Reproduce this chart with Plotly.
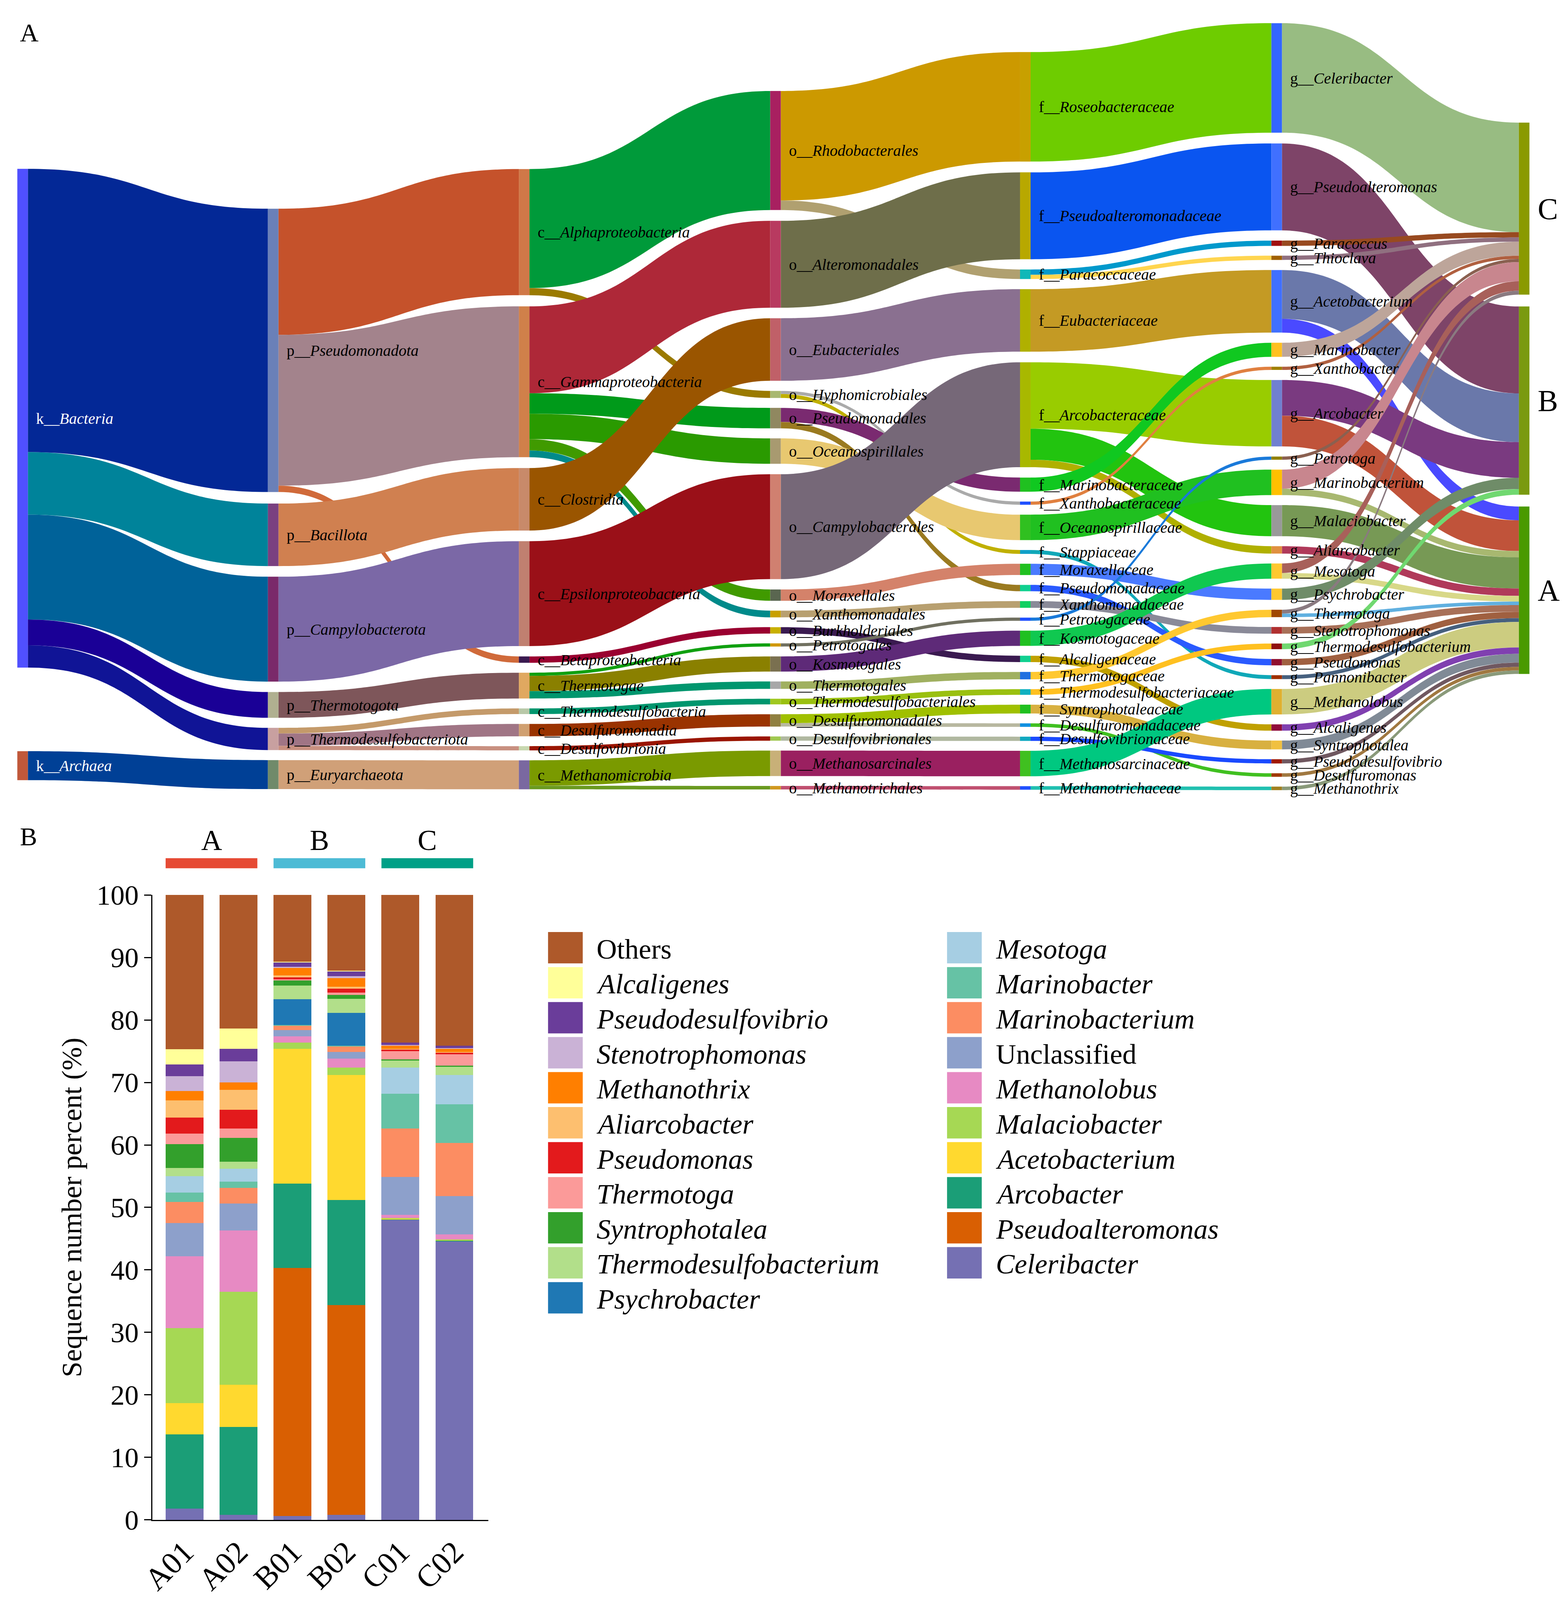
import plotly.graph_objects as go

# layout is worked out in the reference frame (REF_W x REF_H) and drawn in paper fractions;
# the figure itself is sized to fit the visible page
REF_W, REF_H = 4011, 4371
FIG_W, FIG_H = 3995, 4080
S_Y = FIG_H / REF_H
FONT = "Liberation Serif"

# ---------------- Panel A: taxonomy Sankey ----------------
kingdom = ["Bacteria", "Archaea"]
phylum = ["Pseudomonadota", "Bacillota", "Campylobacterota", "Thermotogota",
          "Thermodesulfobacteriota", "Euryarchaeota"]
klass = ["Alphaproteobacteria", "Gammaproteobacteria", "Clostridia", "Epsilonproteobacteria",
         "Betaproteobacteria", "Thermotogae", "Thermodesulfobacteria", "Desulfuromonadia",
         "Desulfovibrionia", "Methanomicrobia"]
order = ["Rhodobacterales", "Alteromonadales", "Eubacteriales", "Hyphomicrobiales",
         "Pseudomonadales", "Oceanospirillales", "Campylobacterales", "Moraxellales",
         "Xanthomonadales", "Burkholderiales", "Petrotogales", "Kosmotogales", "Thermotogales",
         "Thermodesulfobacteriales", "Desulfuromonadales", "Desulfovibrionales",
         "Methanosarcinales", "Methanotrichales"]
family = ["Roseobacteraceae", "Pseudoalteromonadaceae", "Paracoccaceae", "Eubacteriaceae",
          "Arcobacteraceae", "Marinobacteraceae", "Xanthobacteraceae", "Oceanospirillaceae",
          "Stappiaceae", "Moraxellaceae", "Pseudomonadaceae", "Xanthomonadaceae",
          "Petrotogaceae", "Kosmotogaceae", "Alcaligenaceae", "Thermotogaceae",
          "Thermodesulfobacteriaceae", "Syntrophotaleaceae", "Desulfuromonadaceae",
          "Desulfovibrionaceae", "Methanosarcinaceae", "Methanotrichaceae"]
genus = ["Celeribacter", "Pseudoalteromonas", "Paracoccus", "Thioclava", "Acetobacterium",
         "Marinobacter", "Xanthobacter", "Arcobacter", "Petrotoga", "Marinobacterium",
         "Malaciobacter", "Aliarcobacter", "Mesotoga", "Psychrobacter", "Thermotoga",
         "Stenotrophomonas", "Thermodesulfobacterium", "Pseudomonas", "Pannonibacter",
         "Methanolobus", "Alcaligenes", "Syntrophotalea", "Pseudodesulfovibrio",
         "Desulfuromonas", "Methanothrix"]
groups = ["C", "B", "A"]

links_kp = [("Bacteria", "Pseudomonadota", 802), ("Bacteria", "Bacillota", 177),
            ("Bacteria", "Campylobacterota", 297), ("Bacteria", "Thermotogota", 73),
            ("Bacteria", "Thermodesulfobacteriota", 63), ("Archaea", "Euryarchaeota", 82)]
links_pc = [("Pseudomonadota", "Alphaproteobacteria", 357),
            ("Pseudomonadota", "Gammaproteobacteria", 427),
            ("Pseudomonadota", "Betaproteobacteria", 18),
            ("Bacillota", "Clostridia", 177),
            ("Campylobacterota", "Epsilonproteobacteria", 297),
            ("Thermotogota", "Thermotogae", 73),
            ("Thermodesulfobacteriota", "Thermodesulfobacteria", 16),
            ("Thermodesulfobacteriota", "Desulfuromonadia", 35),
            ("Thermodesulfobacteriota", "Desulfovibrionia", 12),
            ("Euryarchaeota", "Methanomicrobia", 82)]
links_co = [("Alphaproteobacteria", "Rhodobacterales", 337),
            ("Alphaproteobacteria", "Hyphomicrobiales", 20),
            ("Gammaproteobacteria", "Alteromonadales", 246),
            ("Gammaproteobacteria", "Pseudomonadales", 58),
            ("Gammaproteobacteria", "Oceanospirillales", 72),
            ("Gammaproteobacteria", "Moraxellales", 32),
            ("Gammaproteobacteria", "Xanthomonadales", 19),
            ("Betaproteobacteria", "Burkholderiales", 18),
            ("Clostridia", "Eubacteriales", 177),
            ("Epsilonproteobacteria", "Campylobacterales", 297),
            ("Thermotogae", "Petrotogales", 9),
            ("Thermotogae", "Kosmotogales", 43),
            ("Thermotogae", "Thermotogales", 21),
            ("Thermodesulfobacteria", "Thermodesulfobacteriales", 16),
            ("Desulfuromonadia", "Desulfuromonadales", 35),
            ("Desulfovibrionia", "Desulfovibrionales", 12),
            ("Methanomicrobia", "Methanosarcinales", 72),
            ("Methanomicrobia", "Methanotrichales", 10)]
links_of = [("Rhodobacterales", "Roseobacteraceae", 310),
            ("Rhodobacterales", "Paracoccaceae", 27),
            ("Alteromonadales", "Pseudoalteromonadaceae", 246),
            ("Eubacteriales", "Eubacteriaceae", 177),
            ("Hyphomicrobiales", "Xanthobacteraceae", 9),
            ("Hyphomicrobiales", "Stappiaceae", 11),
            ("Pseudomonadales", "Marinobacteraceae", 40),
            ("Pseudomonadales", "Pseudomonadaceae", 18),
            ("Oceanospirillales", "Oceanospirillaceae", 72),
            ("Campylobacterales", "Arcobacteraceae", 297),
            ("Moraxellales", "Moraxellaceae", 32),
            ("Xanthomonadales", "Xanthomonadaceae", 19),
            ("Burkholderiales", "Alcaligenaceae", 18),
            ("Petrotogales", "Petrotogaceae", 9),
            ("Kosmotogales", "Kosmotogaceae", 43),
            ("Thermotogales", "Thermotogaceae", 21),
            ("Thermodesulfobacteriales", "Thermodesulfobacteriaceae", 16),
            ("Desulfuromonadales", "Syntrophotaleaceae", 25),
            ("Desulfuromonadales", "Desulfuromonadaceae", 10),
            ("Desulfovibrionales", "Desulfovibrionaceae", 12),
            ("Methanosarcinales", "Methanosarcinaceae", 72),
            ("Methanotrichales", "Methanotrichaceae", 10)]
links_fg = [("Roseobacteraceae", "Celeribacter", 310),
            ("Pseudoalteromonadaceae", "Pseudoalteromonas", 246),
            ("Paracoccaceae", "Paracoccus", 15),
            ("Paracoccaceae", "Thioclava", 12),
            ("Eubacteriaceae", "Acetobacterium", 177),
            ("Arcobacteraceae", "Arcobacter", 188),
            ("Arcobacteraceae", "Malaciobacter", 88),
            ("Arcobacteraceae", "Aliarcobacter", 21),
            ("Marinobacteraceae", "Marinobacter", 40),
            ("Xanthobacteraceae", "Xanthobacter", 9),
            ("Oceanospirillaceae", "Marinobacterium", 72),
            ("Stappiaceae", "Pannonibacter", 11),
            ("Moraxellaceae", "Psychrobacter", 32),
            ("Pseudomonadaceae", "Pseudomonas", 18),
            ("Xanthomonadaceae", "Stenotrophomonas", 19),
            ("Petrotogaceae", "Petrotoga", 9),
            ("Kosmotogaceae", "Mesotoga", 43),
            ("Alcaligenaceae", "Alcaligenes", 18),
            ("Thermotogaceae", "Thermotoga", 21),
            ("Thermodesulfobacteriaceae", "Thermodesulfobacterium", 16),
            ("Syntrophotaleaceae", "Syntrophotalea", 25),
            ("Desulfuromonadaceae", "Desulfuromonas", 10),
            ("Desulfovibrionaceae", "Pseudodesulfovibrio", 12),
            ("Methanosarcinaceae", "Methanolobus", 72),
            ("Methanotrichaceae", "Methanothrix", 10)]
links_gs = [("Celeribacter", "C", 310), ("Pseudoalteromonas", "B", 246),
            ("Paracoccus", "C", 15), ("Thioclava", "C", 12),
            ("Acetobacterium", "B", 138), ("Acetobacterium", "A", 39),
            ("Marinobacter", "C", 40), ("Xanthobacter", "C", 9),
            ("Arcobacter", "B", 101), ("Arcobacter", "A", 87),
            ("Petrotoga", "C", 9), ("Marinobacterium", "C", 54), ("Marinobacterium", "A", 18),
            ("Malaciobacter", "A", 88), ("Aliarcobacter", "A", 21),
            ("Mesotoga", "C", 27), ("Mesotoga", "A", 16), ("Psychrobacter", "B", 32),
            ("Thermotoga", "C", 11), ("Thermotoga", "A", 10),
            ("Stenotrophomonas", "A", 19), ("Thermodesulfobacterium", "B", 16),
            ("Pseudomonas", "A", 18), ("Pannonibacter", "A", 11), ("Methanolobus", "A", 72),
            ("Alcaligenes", "A", 18), ("Syntrophotalea", "A", 25),
            ("Pseudodesulfovibrio", "A", 12), ("Desulfuromonas", "A", 10),
            ("Methanothrix", "A", 10)]

# ---------------- Panel B: stacked bars ----------------
samples = ["A01", "A02", "B01", "B02", "C01", "C02"]
taxa = ["Celeribacter", "Pseudoalteromonas", "Arcobacter", "Acetobacterium", "Malaciobacter",
        "Methanolobus", "Unclassified", "Marinobacterium", "Marinobacter", "Mesotoga",
        "Psychrobacter", "Thermodesulfobacterium", "Syntrophotalea", "Thermotoga",
        "Pseudomonas", "Aliarcobacter", "Methanothrix", "Stenotrophomonas",
        "Pseudodesulfovibrio", "Alcaligenes", "Others"]
a01 = [1.8, 0, 11.9, 5.0, 12.0, 11.5, 5.3, 3.4, 1.5, 2.6, 0, 1.3, 3.8, 1.7, 2.6, 2.7, 1.5, 2.4, 1.9, 2.4, 24.7]
a02 = [0.8, 0, 14.1, 6.7, 14.9, 9.8, 4.3, 2.5, 1.0, 2.1, 0, 1.1, 3.8, 1.5, 3.0, 3.2, 1.2, 3.4, 2.0, 3.2, 21.4]
b01 = [0.6, 39.7, 13.5, 21.6, 1.0, 1.0, 1.0, 0.7, 0.1, 0, 4.1, 2.2, 0.8, 0.2, 0.3, 0.3, 1.2, 0.2, 0.7, 0.1, 10.7]
b02 = [0.8, 33.6, 16.8, 20.0, 1.2, 1.4, 1.1, 0.9, 0.1, 0, 5.2, 2.3, 0.6, 0.4, 0.6, 0.3, 1.4, 0.3, 0.8, 0.1, 12.1]
c01 = [48.0, 0, 0.1, 0.1, 0.1, 0.5, 6.1, 7.7, 5.6, 4.2, 0, 1.1, 0.2, 1.3, 0.3, 0.1, 0.5, 0.1, 0.4, 0, 23.6]
c02 = [44.6, 0, 0.1, 0.1, 0.1, 0.8, 6.1, 8.5, 6.2, 4.7, 0, 1.3, 0.2, 1.8, 0.3, 0.1, 0.5, 0.1, 0.4, 0, 24.1]
group_names = ["A", "B", "C"]

# ---------------- styles ----------------
node_colors = {
    "Bacteria": "#5050FF", "Archaea": "#C0583A",
    "Pseudomonadota": "#6A80B8", "Bacillota": "#7A4080", "Campylobacterota": "#7A2A6A",
    "Thermotogota": "#B0B090", "Thermodesulfobacteriota": "#C8A0A0", "Euryarchaeota": "#708A6A",
    "Alphaproteobacteria": "#D07848", "Gammaproteobacteria": "#D0804A", "Clostridia": "#C88A6A",
    "Epsilonproteobacteria": "#C08070", "Betaproteobacteria": "#3A1A50", "Thermotogae": "#E0A860",
    "Thermodesulfobacteria": "#B8C8A8", "Desulfuromonadia": "#D0A070",
    "Desulfovibrionia": "#C8D8B0", "Methanomicrobia": "#7A68A0",
    "Rhodobacterales": "#A82060", "Alteromonadales": "#B83A60", "Eubacteriales": "#C06068",
    "Hyphomicrobiales": "#A8B870", "Pseudomonadales": "#908860", "Oceanospirillales": "#A89A70",
    "Campylobacterales": "#D08070", "Moraxellales": "#5A6650", "Xanthomonadales": "#C8A000",
    "Burkholderiales": "#C8B000", "Petrotogales": "#D09800", "Kosmotogales": "#7A7050",
    "Thermotogales": "#A8A8A8", "Thermodesulfobacteriales": "#A0C820",
    "Desulfuromonadales": "#908040", "Desulfovibrionales": "#A0C850",
    "Methanosarcinales": "#C8B078", "Methanotrichales": "#D09820",
    "Roseobacteraceae": "#C8A000", "Pseudoalteromonadaceae": "#B8A800", "Paracoccaceae": "#10B8B8",
    "Eubacteriaceae": "#B0B000", "Arcobacteraceae": "#A8B800", "Marinobacteraceae": "#20C020",
    "Xanthobacteraceae": "#2050FF", "Oceanospirillaceae": "#30C020", "Stappiaceae": "#10A0C8",
    "Moraxellaceae": "#20C020", "Pseudomonadaceae": "#10D090", "Xanthomonadaceae": "#10D060",
    "Petrotogaceae": "#2050FF", "Kosmotogaceae": "#20C020", "Alcaligenaceae": "#10D090",
    "Thermotogaceae": "#2070E0", "Thermodesulfobacteriaceae": "#10B0C0",
    "Syntrophotaleaceae": "#20C020", "Desulfuromonadaceae": "#1090E0",
    "Desulfovibrionaceae": "#10A8C0", "Methanosarcinaceae": "#40C020",
    "Methanotrichaceae": "#2050FF",
    "Celeribacter": "#3366FF", "Pseudoalteromonas": "#4070FF", "Paracoccus": "#A01010",
    "Thioclava": "#A06000", "Acetobacterium": "#4070FF", "Marinobacter": "#FFC020",
    "Xanthobacter": "#A08000", "Arcobacter": "#7080D0", "Petrotoga": "#908000",
    "Marinobacterium": "#FFC000", "Malaciobacter": "#999999", "Aliarcobacter": "#E09040",
    "Mesotoga": "#FFC830", "Psychrobacter": "#FFC830", "Thermotoga": "#A04800",
    "Stenotrophomonas": "#B03030", "Thermodesulfobacterium": "#901010", "Pseudomonas": "#901030",
    "Pannonibacter": "#A03000", "Methanolobus": "#E0B030", "Alcaligenes": "#900C3A",
    "Syntrophotalea": "#F0C040", "Pseudodesulfovibrio": "#A01800", "Desulfuromonas": "#A03800",
    "Methanothrix": "#A08020",
    "C": "#8A9A00", "B": "#7A9A10", "A": "#4A9A00",
}
link_colors = {
    ("Bacteria", "Pseudomonadota"): "#032896", ("Bacteria", "Bacillota"): "#00839A",
    ("Bacteria", "Campylobacterota"): "#006299", ("Bacteria", "Thermotogota"): "#1A0096",
    ("Bacteria", "Thermodesulfobacteriota"): "#101496", ("Archaea", "Euryarchaeota"): "#004096",
    ("Pseudomonadota", "Alphaproteobacteria"): "#C5522B",
    ("Pseudomonadota", "Gammaproteobacteria"): "#A3838C",
    ("Pseudomonadota", "Betaproteobacteria"): "#D06A3A",
    ("Bacillota", "Clostridia"): "#D08050",
    ("Campylobacterota", "Epsilonproteobacteria"): "#7B68A6",
    ("Thermotogota", "Thermotogae"): "#7E565A",
    ("Thermodesulfobacteriota", "Thermodesulfobacteria"): "#C49A6A",
    ("Thermodesulfobacteriota", "Desulfuromonadia"): "#A07585",
    ("Thermodesulfobacteriota", "Desulfovibrionia"): "#C89080",
    ("Euryarchaeota", "Methanomicrobia"): "#D0A078",
    ("Alphaproteobacteria", "Rhodobacterales"): "#009A3A",
    ("Alphaproteobacteria", "Hyphomicrobiales"): "#9A7A00",
    ("Gammaproteobacteria", "Alteromonadales"): "#AE2838",
    ("Gammaproteobacteria", "Pseudomonadales"): "#009A1A",
    ("Gammaproteobacteria", "Oceanospirillales"): "#2A9A00",
    ("Gammaproteobacteria", "Moraxellales"): "#409A00",
    ("Gammaproteobacteria", "Xanthomonadales"): "#008A8A",
    ("Betaproteobacteria", "Burkholderiales"): "#9A0030",
    ("Clostridia", "Eubacteriales"): "#9A5500",
    ("Epsilonproteobacteria", "Campylobacterales"): "#9A1018",
    ("Thermotogae", "Petrotogales"): "#10A010",
    ("Thermotogae", "Kosmotogales"): "#8A8000",
    ("Thermotogae", "Thermotogales"): "#00966E",
    ("Thermodesulfobacteria", "Thermodesulfobacteriales"): "#00966E",
    ("Desulfuromonadia", "Desulfuromonadales"): "#9A3300",
    ("Desulfovibrionia", "Desulfovibrionales"): "#9A1500",
    ("Methanomicrobia", "Methanosarcinales"): "#7A9A00",
    ("Methanomicrobia", "Methanotrichales"): "#6A9A20",
    ("Rhodobacterales", "Roseobacteraceae"): "#CC9900",
    ("Rhodobacterales", "Paracoccaceae"): "#B0A070",
    ("Alteromonadales", "Pseudoalteromonadaceae"): "#6E6E4A",
    ("Eubacteriales", "Eubacteriaceae"): "#8A7090",
    ("Hyphomicrobiales", "Xanthobacteraceae"): "#AAAAAA",
    ("Hyphomicrobiales", "Stappiaceae"): "#C0B000",
    ("Pseudomonadales", "Marinobacteraceae"): "#7A2A70",
    ("Pseudomonadales", "Pseudomonadaceae"): "#9A7A20",
    ("Oceanospirillales", "Oceanospirillaceae"): "#E8C870",
    ("Campylobacterales", "Arcobacteraceae"): "#766878",
    ("Moraxellales", "Moraxellaceae"): "#D4826A",
    ("Xanthomonadales", "Xanthomonadaceae"): "#B8A070",
    ("Burkholderiales", "Alcaligenaceae"): "#3A1A50",
    ("Petrotogales", "Petrotogaceae"): "#707060",
    ("Kosmotogales", "Kosmotogaceae"): "#5E2A78",
    ("Thermotogales", "Thermotogaceae"): "#A0B060",
    ("Thermodesulfobacteriales", "Thermodesulfobacteriaceae"): "#9AC010",
    ("Desulfuromonadales", "Syntrophotaleaceae"): "#A0C000",
    ("Desulfuromonadales", "Desulfuromonadaceae"): "#B8B8A0",
    ("Desulfovibrionales", "Desulfovibrionaceae"): "#B0B8A0",
    ("Methanosarcinales", "Methanosarcinaceae"): "#9A2060",
    ("Methanotrichales", "Methanotrichaceae"): "#C05070",
    ("Roseobacteraceae", "Celeribacter"): "#6ECC00",
    ("Pseudoalteromonadaceae", "Pseudoalteromonas"): "#0A55F0",
    ("Paracoccaceae", "Paracoccus"): "#0099CC",
    ("Paracoccaceae", "Thioclava"): "#FFD54F",
    ("Eubacteriaceae", "Acetobacterium"): "#C49A24",
    ("Arcobacteraceae", "Arcobacter"): "#99CC00",
    ("Arcobacteraceae", "Malaciobacter"): "#22C40F",
    ("Arcobacteraceae", "Aliarcobacter"): "#B0B000",
    ("Marinobacteraceae", "Marinobacter"): "#10C820",
    ("Xanthobacteraceae", "Xanthobacter"): "#E08040",
    ("Oceanospirillaceae", "Marinobacterium"): "#20C020",
    ("Stappiaceae", "Pannonibacter"): "#10A8B8",
    ("Moraxellaceae", "Psychrobacter"): "#4A7AFF",
    ("Pseudomonadaceae", "Pseudomonas"): "#2A5AFF",
    ("Xanthomonadaceae", "Stenotrophomonas"): "#8A8A98",
    ("Petrotogaceae", "Petrotoga"): "#1A7ADA",
    ("Kosmotogaceae", "Mesotoga"): "#10C850",
    ("Alcaligenaceae", "Alcaligenes"): "#C0A000",
    ("Thermotogaceae", "Thermotoga"): "#FFC830",
    ("Thermodesulfobacteriaceae", "Thermodesulfobacterium"): "#FFC020",
    ("Syntrophotaleaceae", "Syntrophotalea"): "#D8B040",
    ("Desulfuromonadaceae", "Desulfuromonas"): "#40C020",
    ("Desulfovibrionaceae", "Pseudodesulfovibrio"): "#1A4AFF",
    ("Methanosarcinaceae", "Methanolobus"): "#00C880",
    ("Methanotrichaceae", "Methanothrix"): "#20C0B0",
    ("Celeribacter", "C"): "#98BC82", ("Pseudoalteromonas", "B"): "#7E4468",
    ("Paracoccus", "C"): "#984A20", ("Thioclava", "C"): "#907080",
    ("Acetobacterium", "B"): "#6A78AA", ("Acetobacterium", "A"): "#4A4AFF",
    ("Marinobacter", "C"): "#BDA59A", ("Xanthobacter", "C"): "#B06040",
    ("Arcobacter", "B"): "#7A3A80", ("Arcobacter", "A"): "#C0533A",
    ("Petrotoga", "C"): "#8A6050", ("Marinobacterium", "C"): "#C8868E",
    ("Marinobacterium", "A"): "#A8B870", ("Malaciobacter", "A"): "#779955",
    ("Aliarcobacter", "A"): "#B03A5A", ("Mesotoga", "C"): "#A8605A",
    ("Mesotoga", "A"): "#D8D888", ("Psychrobacter", "B"): "#6F8C68",
    ("Thermotoga", "C"): "#8A7A80", ("Thermotoga", "A"): "#60B0E0",
    ("Stenotrophomonas", "A"): "#A87058", ("Thermodesulfobacterium", "B"): "#70D870",
    ("Pseudomonas", "A"): "#A06040", ("Pannonibacter", "A"): "#46607E",
    ("Methanolobus", "A"): "#CCCC80", ("Alcaligenes", "A"): "#8040B0",
    ("Syntrophotalea", "A"): "#808A96", ("Pseudodesulfovibrio", "A"): "#705860",
    ("Desulfuromonas", "A"): "#A07840", ("Methanothrix", "A"): "#8A9A7A",
}
taxon_colors = {
    "Others": "#AE592A", "Alcaligenes": "#FFFF99", "Pseudodesulfovibrio": "#6A3D9A",
    "Stenotrophomonas": "#CAB2D6", "Methanothrix": "#FF7F00", "Aliarcobacter": "#FDBF6F",
    "Pseudomonas": "#E31A1C", "Thermotoga": "#FB9A99", "Syntrophotalea": "#33A02C",
    "Thermodesulfobacterium": "#B2DF8A", "Psychrobacter": "#1F78B4", "Mesotoga": "#A6CEE3",
    "Marinobacter": "#66C2A5", "Marinobacterium": "#FC8D62", "Unclassified": "#8DA0CB",
    "Methanolobus": "#E78AC3", "Malaciobacter": "#A6D854", "Acetobacterium": "#FFD92F",
    "Arcobacter": "#1B9E77", "Pseudoalteromonas": "#D95F02", "Celeribacter": "#7570B3",
}
group_colors = {"A": "#E64B35", "B": "#4DBBD5", "C": "#00A087"}


def px(x):
    return x / REF_W


def py(y):
    return 1 - y / REF_H


# ---------------- Sankey layout (reference-frame pixels) ----------------
columns = [kingdom, phylum, klass, order, family, genus, groups]
prefixes = ["k", "p", "c", "o", "f", "g", ""]
level_links = [links_kp, links_pc, links_co, links_of, links_fg, links_gs]
SK_TOP, SK_BOT = 12, 2165
SK_H = SK_BOT - SK_TOP
PAD = 27.4
COL_TOP = [415, 530, 421, 202, 93, 12, 290]
COL_GAP = [227, PAD, PAD, PAD, PAD, PAD, 28]
COL_X = [13, 663, 1314, 1966, 2614, 3266, 3908]
THICK = 27

node_val = {}
for ci, lk in enumerate(level_links):
    for s, t, v in lk:
        node_val[(ci, s)] = node_val.get((ci, s), 0) + v
        if ci == len(level_links) - 1:
            node_val[(ci + 1, t)] = node_val.get((ci + 1, t), 0) + v

ky = min((SK_H - (len(col) - 1) * PAD) / sum(node_val[(ci, n)] for n in col)
         for ci, col in enumerate(columns))

idx, labels, nx, ny, ncol = {}, [], [], [], []
group_mid = {}
for ci, col in enumerate(columns):
    cursor = COL_TOP[ci]
    for name in col:
        v = node_val[(ci, name)]
        idx[(ci, name)] = len(labels)
        if ci == 6:
            lab = ""          # group letters are drawn to the right as annotations
            group_mid[name] = cursor + v * ky / 2
        else:
            lab = f"{prefixes[ci]}__<i>{name}</i>"
            if ci == 0:
                lab = f'<span style="color:white">{lab}</span>'
            lab = "\u00a0\u2009" + lab
        labels.append(lab)
        nx.append(COL_X[ci] / REF_W)
        ny.append((cursor + v * ky / 2 - SK_TOP) / SK_H)
        ncol.append(node_colors[name])
        cursor += v * ky + COL_GAP[ci]

src, tgt, val, lcol = [], [], [], []
for ci, lk in enumerate(level_links):
    for s, t, v in lk:
        src.append(idx[(ci, s)])
        tgt.append(idx[(ci + 1, t)])
        val.append(v)
        lcol.append(link_colors[(s, t)])

fig = go.Figure()
fig.add_trace(go.Sankey(
    arrangement="fixed",
    domain=dict(x=[0, 1], y=[py(SK_BOT), py(SK_TOP)]),
    node=dict(label=labels, x=nx, y=ny, color=ncol, pad=PAD * S_Y, thickness=THICK,
              line=dict(width=0)),
    link=dict(source=src, target=tgt, value=val, color=lcol),
    textfont=dict(family=FONT, size=40, color="black", shadow="none"),
    hoverinfo="none",
))

# ---------------- stacked bars ----------------
per_sample = [a01, a02, b01, b02, c01, c02]
BAR_W = 0.7
for i, t in enumerate(taxa):
    fig.add_trace(go.Bar(
        x=samples, y=[s[i] for s in per_sample], name=t, width=BAR_W,
        marker=dict(color=taxon_colors[t], line=dict(width=0)),
        showlegend=False, xaxis="x", yaxis="y", hoverinfo="skip",
    ))

AX_L, AX_R, AX_Y0, AX_Y100 = 350, 1221, 4212, 2459
fig.update_layout(
    width=FIG_W, height=FIG_H, margin=dict(l=0, r=0, t=0, b=0),
    paper_bgcolor="white", plot_bgcolor="white", barmode="stack", bargap=0.3,
    font=dict(family=FONT, color="black"),
    xaxis=dict(domain=[px(AX_L), px(AX_R)], anchor="y", range=[-0.593, 5.63],
               showline=True, linecolor="black", linewidth=3, ticks="", showgrid=False,
               tickangle=-45, tickfont=dict(size=80, family=FONT, color="black")),
    yaxis=dict(domain=[py(AX_Y0), py(AX_Y100)], anchor="x", range=[0, 100],
               dtick=10, ticks="outside", ticklen=18, tickwidth=3, tickcolor="black",
               showline=True, linecolor="black", linewidth=3, showgrid=False, zeroline=False,
               tickfont=dict(size=72, family=FONT, color="black"),
               title=dict(text="Sequence number percent (%)", standoff=15,
                          font=dict(size=72, family=FONT, color="black"))),
)

shapes, annos = [], []
# sample-group letters to the right of the last Sankey column
for g in groups:
    annos.append(dict(text=g, xref="paper", yref="paper",
                      x=px(COL_X[6] + THICK / 2 + 20), y=py(group_mid[g]),
                      xanchor="left", yanchor="middle", showarrow=False,
                      font=dict(size=78, family=FONT, color="black")))

# group bars above the stacked columns
for gi, g in enumerate(group_names):
    i0, i1 = 2 * gi, 2 * gi + 1
    shapes.append(dict(type="rect", xref="x", yref="paper", x0=i0 - BAR_W / 2, x1=i1 + BAR_W / 2,
                       y0=py(2384), y1=py(2356), fillcolor=group_colors[g],
                       line=dict(width=0)))
    annos.append(dict(text=g, xref="x", yref="paper", x=(i0 + i1) / 2, y=py(2306),
                      xanchor="center", yanchor="middle", showarrow=False,
                      font=dict(size=74, family=FONT, color="black")))

# legend drawn as two columns of swatches
legend_cols = [taxa[::-1][:11], taxa[::-1][11:]]
LEG_X = [1376, 2411]
LEG_TOP, LEG_STEP, SW_W, SW_H = 2563, 98.2, 90, 88
for c, items in enumerate(legend_cols):
    for r, t in enumerate(items):
        y0 = LEG_TOP + r * LEG_STEP
        shapes.append(dict(type="rect", xref="paper", yref="paper",
                           x0=px(LEG_X[c]), x1=px(LEG_X[c] + SW_W),
                           y0=py(y0 + SW_H), y1=py(y0),
                           fillcolor=taxon_colors[t], line=dict(width=0)))
        txt = t if t in ("Others", "Unclassified") else f"<i>{t}</i>"
        annos.append(dict(text=txt, xref="paper", yref="paper",
                          x=px(LEG_X[c] + 124), y=py(y0 + SW_H / 2 + 4),
                          xanchor="left", yanchor="middle", showarrow=False,
                          font=dict(size=72, family=FONT, color="black")))

# panel letters
annos.append(dict(text="A", xref="paper", yref="paper", x=px(4), y=py(40),
                  xanchor="left", yanchor="middle", showarrow=False,
                  font=dict(size=66, family=FONT, color="black")))
annos.append(dict(text="B", xref="paper", yref="paper", x=px(4), y=py(2295),
                  xanchor="left", yanchor="middle", showarrow=False,
                  font=dict(size=66, family=FONT, color="black")))

fig.update_layout(shapes=shapes, annotations=annos)
fig.write_html("out.html")
